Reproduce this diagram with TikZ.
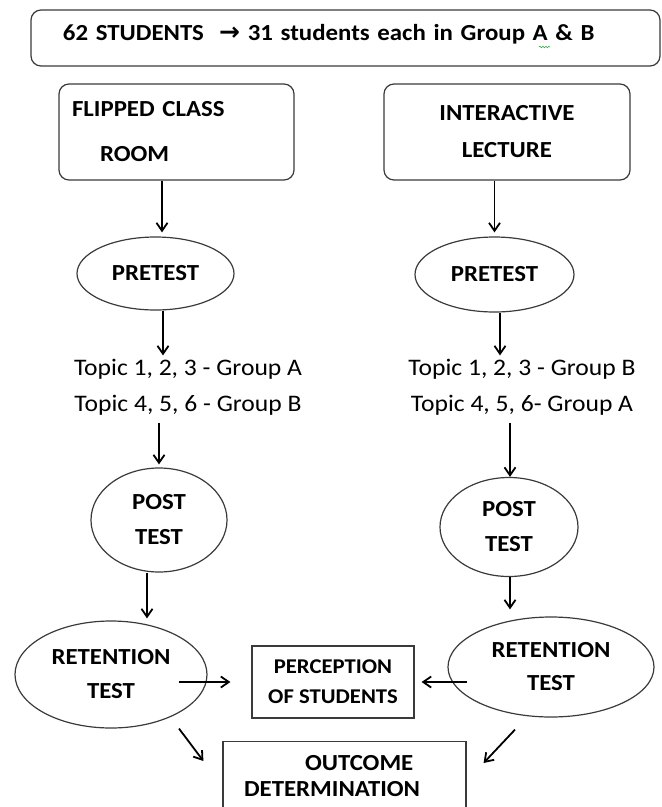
\documentclass[tikz,border=0pt]{standalone}
\usepackage{fontspec}
\setmainfont{Carlito}[FakeStretch=1.08]
\newfontfamily\symfont{DejaVu Sans}
\usetikzlibrary{arrows.meta, positioning, shapes.geometric, calc, decorations.pathmorphing}
\definecolor{LineGray}{HTML}{3A3A3A}
\definecolor{SpellGreen}{HTML}{3FA34D}

\begin{document}
\begin{tikzpicture}[x=1pt, y=-1pt,
    every node/.style={font=\fontsize{23}{27}\selectfont\bfseries, align=center},
    roundbox/.style={draw=LineGray, line width=1.2pt, rounded corners=10pt},
    plainbox/.style={draw=LineGray, line width=1.2pt},
    oval/.style={draw=LineGray, line width=1.2pt, ellipse, inner sep=0pt},
    topic/.style={font=\fontsize{23.7}{28}\selectfont},
    arr/.style={-{Straight Barb[length=8pt, width=11pt]}, line width=1.8pt}]
    \clip (0,0) rectangle (662,807);

    \node[roundbox, minimum width=629pt, minimum height=56pt, inner xsep=32pt, text width=565pt, text height=16pt, text depth=12pt, align=left] (top) at (345.5,38) {62 STUDENTS\ \ {\symfont\bfseries\fontsize{25}{25}\selectfont →} 31 students each in Group A \& B};

    \node[roundbox, minimum width=235pt, minimum height=96pt, inner xsep=13pt, text width=209pt, align=left] (flip) at (176.5,132) {FLIPPED CLASS\\[18pt]\hspace*{28pt}ROOM};
    \node[roundbox, minimum width=246pt, minimum height=96pt] (inter) at (507,132) {INTERACTIVE\\[10pt]LECTURE};

    \node[oval, minimum width=157pt, minimum height=73pt] (pre1) at (155.5,273.5) {PRETEST};
    \node[oval, minimum width=159pt, minimum height=75pt] (pre2) at (494.5,274.5) {PRETEST};

    \node[topic] (topA) at (188,387) {Topic 1, 2, 3 - Group A\\[8pt]Topic 4, 5, 6 - Group B};
    \node[topic] (topB) at (522,387) {Topic 1, 2, 3 - Group B\\[8pt]Topic 4, 5, 6- Group A};

    \node[oval, minimum width=136pt, minimum height=104pt] (post1) at (159,520) {POST\\[8pt]TEST};
    \node[oval, minimum width=138pt, minimum height=99pt] (post2) at (509,527) {POST\\[8pt]TEST};

    \node[oval, minimum width=192pt, minimum height=107pt] (ret1) at (111,674.5) {RETENTION\\[7pt]TEST};
    \node[oval, minimum width=206pt, minimum height=100pt] (ret2) at (551,667) {RETENTION\\[6pt]TEST};

    \node[plainbox, minimum width=162pt, minimum height=72pt, font=\fontsize{21}{25}\selectfont\bfseries] (perc) at (333,682) {PERCEPTION\\[5pt]OF STUDENTS};
    \node[plainbox, minimum width=243pt, minimum height=68pt, inner xsep=21pt, text width=201pt, align=left, anchor=north] (out) at (344.5,741) {\hspace*{61pt}OUTCOME\\[-1pt]DETERMINATION};

    % spell-check squiggle under the A
    \draw[SpellGreen, line width=0.6pt, decorate, decoration={snake, amplitude=0.8pt, segment length=3pt}] (539,47) -- (550,47);

    % Arrows
    \draw[arr, shorten >=4pt] ([xshift=6.5pt]flip.south -| pre1.north) -- ([xshift=6.5pt]pre1.north);
    \draw[arr, shorten >=4pt] (inter.south -| pre2.north) -- (pre2.north);
    \draw[arr] ([xshift=7.5pt]pre1.south) -- ([xshift=7.5pt]pre1.south |- topA.north);
    \draw[arr] ([xshift=5.5pt]pre2.south) -- ([xshift=5.5pt]pre2.south |- topB.north);
    \draw[arr, shorten <=4pt, shorten >=3pt] (topA.south -| post1.north) -- (post1.north);
    \draw[arr, shorten <=4pt] ([xshift=1pt]topB.south -| post2.north) -- ([xshift=1pt]post2.north);
    \draw[arr, shorten >=2pt] ([xshift=-12pt]post1.south) -- ([xshift=-12pt]post1.south |- ret1.north);
    \draw[arr, shorten >=7pt] ([xshift=1pt]post2.south) -- ([xshift=1pt]post2.south |- ret2.north);
    \draw[arr, shorten <=-29pt, shorten >=21pt] (ret1.east |- perc.west) -- (perc.west);
    \draw[arr, shorten <=-20pt, shorten >=7pt] (ret2.west |- perc.east) -- (perc.east);
    \draw[arr] ($(ret1.south)+(68,0)$) -- ($(out.north west)+(-19,20)$);
    \draw[arr] ($(ret2.south)+(-36,12)$) -- ($(out.north east)+(17,22)$);
\end{tikzpicture}
\end{document}
